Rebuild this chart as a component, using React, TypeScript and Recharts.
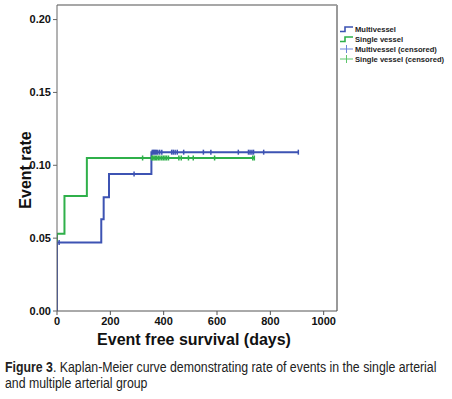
import React from "react";
import {
  ComposedChart,
  Line,
  Scatter,
  XAxis,
  YAxis,
  ReferenceLine,
} from "recharts";

// step points of the Kaplan-Meier curves (days, event rate)
const multiSteps = [
  { t: 0, rate: 0 },
  { t: 0, rate: 0.047 },
  { t: 166, rate: 0.063 },
  { t: 175, rate: 0.078 },
  { t: 195, rate: 0.094 },
  { t: 354, rate: 0.109 },
  { t: 905, rate: 0.109 },
];
const singleSteps = [
  { t: 0, rate: 0 },
  { t: 0, rate: 0.053 },
  { t: 28, rate: 0.079 },
  { t: 112, rate: 0.105 },
  { t: 740, rate: 0.105 },
];

// censored observations
const multiCensored = [
  { t: 8, rate: 0.047 },
  { t: 289, rate: 0.094 },
  { t: 357, rate: 0.109 },
  { t: 361, rate: 0.109 },
  { t: 365, rate: 0.109 },
  { t: 369, rate: 0.109 },
  { t: 373, rate: 0.109 },
  { t: 378, rate: 0.109 },
  { t: 385, rate: 0.109 },
  { t: 393, rate: 0.109 },
  { t: 430, rate: 0.109 },
  { t: 436, rate: 0.109 },
  { t: 443, rate: 0.109 },
  { t: 451, rate: 0.109 },
  { t: 475, rate: 0.109 },
  { t: 549, rate: 0.109 },
  { t: 577, rate: 0.109 },
  { t: 680, rate: 0.109 },
  { t: 718, rate: 0.109 },
  { t: 724, rate: 0.109 },
  { t: 731, rate: 0.109 },
  { t: 737, rate: 0.109 },
  { t: 775, rate: 0.109 },
  { t: 905, rate: 0.109 },
];
const singleCensored = [
  { t: 321, rate: 0.105 },
  { t: 355, rate: 0.105 },
  { t: 359, rate: 0.105 },
  { t: 364, rate: 0.105 },
  { t: 369, rate: 0.105 },
  { t: 374, rate: 0.105 },
  { t: 380, rate: 0.105 },
  { t: 386, rate: 0.105 },
  { t: 393, rate: 0.105 },
  { t: 399, rate: 0.105 },
  { t: 405, rate: 0.105 },
  { t: 411, rate: 0.105 },
  { t: 418, rate: 0.105 },
  { t: 457, rate: 0.105 },
  { t: 466, rate: 0.105 },
  { t: 493, rate: 0.105 },
  { t: 511, rate: 0.105 },
  { t: 591, rate: 0.105 },
  { t: 734, rate: 0.105 },
  { t: 740, rate: 0.105 },
];

const xTicks = [0, 200, 400, 600, 800, 1000];
const yTicks = [0, 0.05, 0.1, 0.15, 0.2];

const BLUE = "#3d53b3";
const GREEN = "#2fb04a";
const BLUE_LIGHT = "#6c84d9";
const GREEN_LIGHT = "#5dc56c";
const FONT = "'Liberation Sans', Arial, sans-serif";

const legendItems = [
  { name: "Multivessel", color: BLUE, kind: "step" },
  { name: "Single vessel", color: GREEN, kind: "step" },
  { name: "Multivessel (censored)", color: BLUE_LIGHT, kind: "plus" },
  { name: "Single vessel (censored)", color: GREEN_LIGHT, kind: "plus" },
];

const censorMark = (color: string) => (props: any) => {
  const { cx, cy } = props;
  return (
    <line
      x1={cx}
      x2={cx}
      y1={cy - 2.5}
      y2={cy + 2.5}
      stroke={color}
      strokeWidth={1.5}
    />
  );
};

const ChartLegend = () => (
  <svg
    width={112}
    height={44}
    style={{ position: "absolute", left: 340, top: 24 }}
  >
    {legendItems.map((item, i) => {
      const y = 5 + i * 10;
      return (
        <g key={item.name}>
          {item.kind === "step" ? (
            <polyline
              points={`0,${y + 2.5} 5,${y + 2.5} 5,${y - 2} 13,${y - 2}`}
              fill="none"
              stroke={item.color}
              strokeWidth={1.6}
            />
          ) : (
            <g stroke={item.color} strokeWidth={1}>
              <line x1={0} x2={13} y1={y} y2={y} />
              <line x1={6.5} x2={6.5} y1={y - 4} y2={y + 4} />
            </g>
          )}
          <text
            x={15}
            y={y + 2.7}
            fontSize={7.6}
            fontWeight="bold"
            fontFamily={FONT}
            fill="#222"
          >
            {item.name}
          </text>
        </g>
      );
    })}
  </svg>
);

const App = () => (
  <div
    style={{
      position: "absolute",
      left: 0,
      top: 0,
      width: 452,
      height: 399,
      background: "#fff",
    }}
  >
    <ComposedChart
      width={452}
      height={352}
      margin={{ top: 5, right: 115, left: 12, bottom: 11 }}
    >
      <XAxis
        type="number"
        dataKey="t"
        domain={[0, 1050]}
        ticks={xTicks}
        allowDataOverflow
        height={30}
        stroke="#555"
        tickSize={4}
        tick={{ fill: "#111", fontSize: 11, fontWeight: "bold", fontFamily: FONT }}
        label={() => (
          <text
            x={194}
            y={345}
            textAnchor="middle"
            fontSize={16}
            fontWeight="bold"
            fontFamily={FONT}
            fill="#111"
          >
            Event free survival (days)
          </text>
        )}
      />
      <YAxis
        type="number"
        dataKey="rate"
        domain={[0, 0.21]}
        ticks={yTicks}
        allowDataOverflow
        width={45}
        stroke="#666"
        tickSize={4}
        tickFormatter={(v: number) => v.toFixed(2)}
        tick={{ fill: "#111", fontSize: 11, fontWeight: "bold", fontFamily: FONT }}
        label={() => (
          <text
            x={31}
            y={170}
            transform="rotate(-90 31 170)"
            textAnchor="middle"
            fontSize={16}
            fontWeight="bold"
            fontFamily={FONT}
            fill="#111"
          >
            Event rate
          </text>
        )}
      />
      <ReferenceLine y={0.21} stroke="#8a8a8a" strokeWidth={1.5} />
      <ReferenceLine x={1050} stroke="#9a9a9a" strokeWidth={2} />
      <Line
        data={singleSteps}
        dataKey="rate"
        type="stepAfter"
        stroke={GREEN}
        strokeWidth={2}
        dot={false}
        activeDot={false}
        isAnimationActive={false}
        name="Single vessel"
      />
      <Line
        data={multiSteps}
        dataKey="rate"
        type="stepAfter"
        stroke={BLUE}
        strokeWidth={2}
        dot={false}
        activeDot={false}
        isAnimationActive={false}
        name="Multivessel"
      />
      <Scatter
        data={singleCensored}
        dataKey="rate"
        shape={censorMark(GREEN)}
        isAnimationActive={false}
        name="Single vessel (censored)"
      />
      <Scatter
        data={multiCensored}
        dataKey="rate"
        shape={censorMark(BLUE)}
        isAnimationActive={false}
        name="Multivessel (censored)"
      />
    </ComposedChart>
    <ChartLegend />
    <div
      style={{
        position: "absolute",
        left: 5,
        top: 359,
        fontFamily: FONT,
        fontSize: 14,
        lineHeight: "16px",
        color: "#222",
        whiteSpace: "nowrap",
        transform: "scaleX(0.88)",
        transformOrigin: "0 0",
      }}
    >
      <b>Figure 3</b>. Kaplan-Meier curve demonstrating rate of events in the
      single arterial
      <br />
      and multiple arterial group
    </div>
  </div>
);

export default App;
